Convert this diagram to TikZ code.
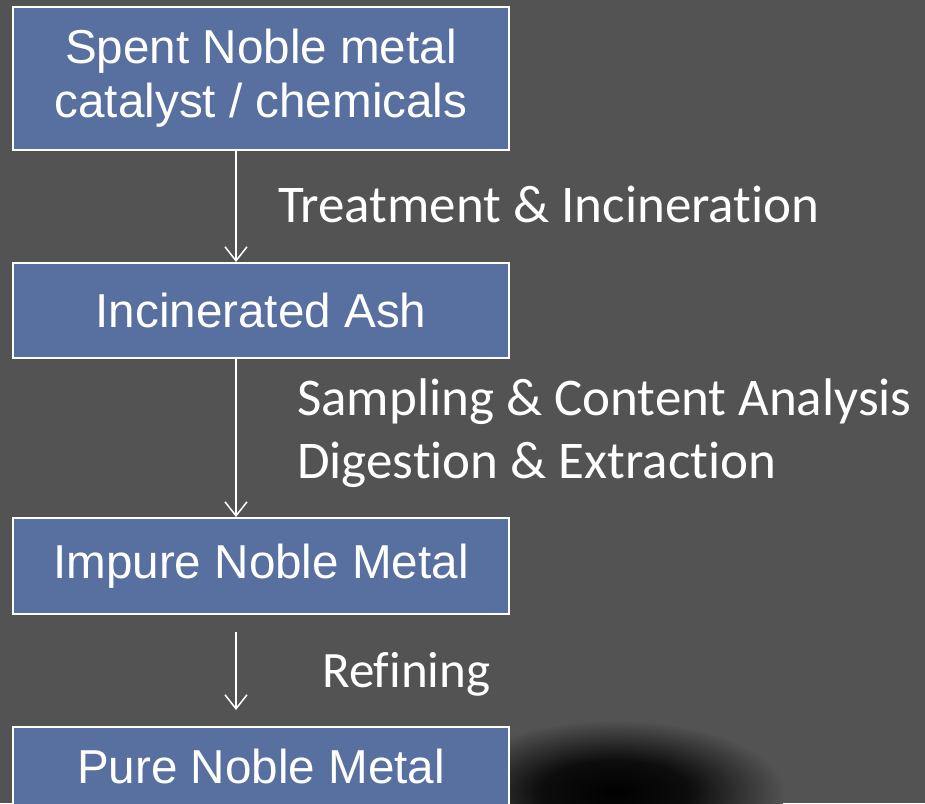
\documentclass[tikz,border=0pt]{standalone}
\usepackage{fontspec}
\setmainfont{Liberation Sans}
\newfontfamily\labfont[Ligatures=NoCommon]{Carlito}
\usetikzlibrary{arrows.meta}
\definecolor{bgc}{HTML}{535353}
\definecolor{boxc}{HTML}{5870A0}
\pgfdeclareradialshading{shadowsh}{\pgfpoint{0bp}{0bp}}{color(0bp)=(black); color(11bp)=(black!95); color(25bp)=(bgc)}
\begin{document}
\begin{tikzpicture}[x=1pt,y=-1pt,
  box/.style={draw=white, line width=2pt, fill=boxc, text=white, minimum width=496pt,
    font=\fontsize{47.6}{54}\selectfont, align=center, inner sep=0pt},
  lab/.style={text=white, anchor=base west, font=\labfont\fontsize{53}{63}\selectfont, align=left, inner sep=0pt},
  arr/.style={white, line width=1.5pt, -{Straight Barb[length=14pt,width=22pt]}}]
\fill[bgc] (0,0) rectangle (925,803);
\useasboundingbox (0,0) rectangle (925,803);
\shade[shading=shadowsh] (615,792) ellipse (170 and 72);
\node[box, minimum height=143pt] (b1) at (261,78.5) {Spent Noble metal\\catalyst / chemicals};
\node[box, minimum height=95pt] (b2) at (261,310.5) {Incinerated Ash};
\node[box, minimum height=96pt] (b3) at (261,566) {Impure Noble Metal};
\node[box, minimum height=78pt] (b4) at (261,766) {Pure Noble Metal};
\draw[arr] ([xshift=-25pt]b1.south) -- ([xshift=-25pt]b2.north);
\draw[arr] ([xshift=-25pt]b2.south) -- ([xshift=-25pt]b3.north);
\draw[arr] ([xshift=-25pt,yshift=-17pt]b3.south) -- ([xshift=-25pt,yshift=16pt]b4.north);
\node[lab] (l1) at (278,222) {Treatment \& Incineration};
\node[lab] (l2) at (297,478) {Sampling \& Content Analysis\\Digestion \& Extraction};
\node[lab, font=\labfont\fontsize{51}{60}\selectfont] (l3) at (322,687) {Refining};
\end{tikzpicture}
\end{document}
